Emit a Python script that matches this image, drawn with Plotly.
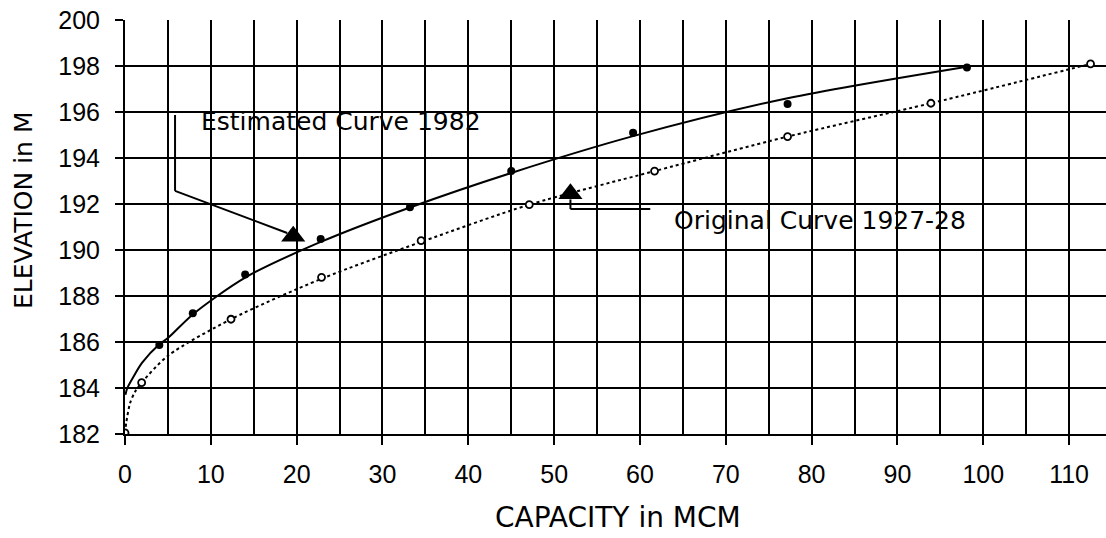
import plotly.graph_objects as go

# Estimated Curve 1982 (solid, filled dots)
est_cap = [4.0, 7.9, 14.0, 22.8, 33.2, 45.0, 59.2, 77.2, 98.1]
est_elev = [185.87, 187.25, 188.94, 190.48, 191.86, 193.43, 195.1, 196.35, 197.94]
# smooth fitted line
est_line_cap = [0.05, 0.27, 1.0, 2.0, 4.0, 5.0, 7.9, 14.0, 22.8, 33.2, 45.0, 59.2, 77.2, 98.1]
est_line_elev = [183.7, 184.0, 184.5, 185.1, 185.9, 186.17, 187.2, 188.8, 190.35, 191.85, 193.35, 194.95, 196.6, 197.97]

# Original Curve 1927-28 (dotted, open circles)
orig_cap = [0.0, 1.94, 12.35, 22.9, 34.5, 47.1, 61.7, 77.2, 93.9, 112.5]
orig_elev = [182.05, 184.23, 186.99, 188.81, 190.41, 191.97, 193.43, 194.93, 196.38, 198.09]
orig_line_cap = [0.0, 0.15, 0.58, 1.17, 1.94, 5.0, 12.35, 22.9, 34.5, 47.1, 61.7, 77.2, 93.9, 112.5]
orig_line_elev = [182.05, 182.5, 183.33, 183.84, 184.23, 185.4, 186.99, 188.75, 190.35, 191.97, 193.43, 194.93, 196.38, 198.09]

# Annotation arrow heads (data coords)
tri_cap = [19.6, 51.9]
tri_elev = [190.6, 192.45]

x_ticks = [0, 10, 20, 30, 40, 50, 60, 70, 80, 90, 100, 110]
y_ticks = [182, 184, 186, 188, 190, 192, 194, 196, 198, 200]

TXT = "DejaVu Sans"
NUM = "Liberation Sans, Arial"

fig = go.Figure()
fig.add_trace(go.Scatter(x=est_line_cap, y=est_line_elev, mode="lines",
                         line=dict(color="black", width=2, shape="spline", smoothing=0.8),
                         hoverinfo="skip", showlegend=False))
fig.add_trace(go.Scatter(x=est_cap, y=est_elev, mode="markers",
                         marker=dict(color="black", size=8, symbol="circle"),
                         name="Estimated Curve 1982", showlegend=False))
fig.add_trace(go.Scatter(x=orig_line_cap, y=orig_line_elev, mode="lines",
                         line=dict(color="black", width=2, dash="dot", shape="spline", smoothing=0.8),
                         hoverinfo="skip", showlegend=False))
fig.add_trace(go.Scatter(x=orig_cap, y=orig_elev, mode="markers",
                         marker=dict(color="white", size=7, symbol="circle",
                                     line=dict(color="black", width=1.8)),
                         name="Original Curve 1927-28", showlegend=False))
fig.add_trace(go.Scatter(x=tri_cap, y=tri_elev, mode="markers",
                         marker=dict(color="black", size=21, symbol="triangle-up"),
                         hoverinfo="skip", showlegend=False))

# callout lines
fig.add_shape(type="line", x0=5.83, y0=195.87, x1=5.83, y1=192.57,
              line=dict(color="black", width=2))
fig.add_shape(type="line", x0=5.83, y0=192.57, x1=18.9, y1=190.74,
              line=dict(color="black", width=2))
fig.add_shape(type="line", x0=51.9, y0=192.2, x1=51.9, y1=191.78,
              line=dict(color="black", width=2))
fig.add_shape(type="line", x0=51.9, y0=191.78, x1=61.2, y1=191.78,
              line=dict(color="black", width=2))

fig.add_annotation(x=8.6, y=195.57, text="Estimated Curve 1982", showarrow=False,
                   xanchor="left", yanchor="middle",
                   font=dict(family=TXT, size=25, color="black"))
fig.add_annotation(x=63.75, y=191.3, text="Original Curve 1927-28", showarrow=False,
                   xanchor="left", yanchor="middle",
                   font=dict(family=TXT, size=25, color="black"))

# axis titles
fig.add_annotation(xref="paper", yref="paper", x=0.5026, y=-0.2005,
                   text="CAPACITY in MCM", showarrow=False, xanchor="center", yanchor="middle",
                   font=dict(family=TXT, size=28, color="black"))
fig.add_annotation(xref="paper", yref="paper", x=-0.104, y=0.541,
                   text="ELEVATION in M", showarrow=False, textangle=-90,
                   xanchor="center", yanchor="middle",
                   font=dict(family=TXT, size=25, color="black"))

fig.update_xaxes(range=[0, 114.3], tickvals=x_ticks, ticks="outside", ticklen=9,
                 tickwidth=2, tickcolor="black", showgrid=True, gridcolor="black", gridwidth=2,
                 minor=dict(dtick=5, showgrid=True, gridcolor="black", gridwidth=2, ticks=""),
                 showline=True, linecolor="black", linewidth=2, zeroline=False,
                 ticklabelstandoff=8,
                 tickfont=dict(family=NUM, size=25, color="black"))
fig.update_yaxes(range=[182, 200], tickvals=y_ticks, ticks="outside", ticklen=8,
                 tickwidth=2, tickcolor="black", showgrid=True, gridcolor="black", gridwidth=2,
                 showline=True, linecolor="black", linewidth=2, zeroline=False,
                 ticklabelstandoff=10,
                 tickfont=dict(family=NUM, size=25, color="black"))
fig.update_layout(width=1106, height=538, margin=dict(l=125, r=0, t=20, b=104),
                  paper_bgcolor="white", plot_bgcolor="white", showlegend=False)
fig.write_html("out.html")
